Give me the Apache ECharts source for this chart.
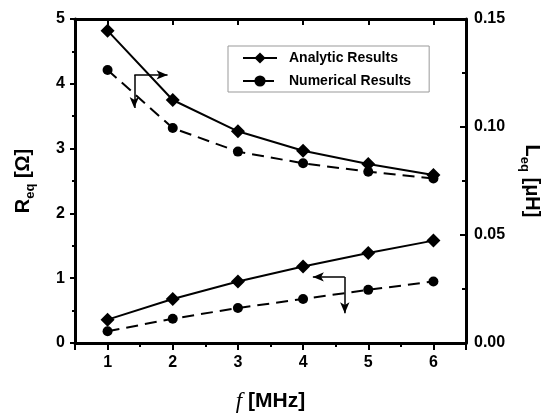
<!DOCTYPE html>
<html>
<head>
<meta charset="utf-8">
<script src="https://cdn.jsdelivr.net/npm/echarts@6/dist/echarts.min.js"></script>
<style>
  body { margin: 0; background: #fff; }
  #main { width: 544px; height: 416px; }
</style>
</head>
<body>
<div id="main"></div>
<script>
// frequency in MHz
var freq = [1, 2, 3, 4, 5, 6];
// R_eq [Ohm], left axis
var rAnalytic = [0.36, 0.68, 0.95, 1.18, 1.39, 1.58];
var rNumerical = [0.18, 0.375, 0.54, 0.68, 0.82, 0.95];
// L_eq [uH], right axis
var lAnalytic = [0.1446, 0.1125, 0.098, 0.089, 0.0829, 0.0778];
var lNumerical = [0.1264, 0.0995, 0.0886, 0.0832, 0.0793, 0.0762];

var font = 'Liberation Sans, Arial, sans-serif';

function pairs(xs, ys) {
  var out = [];
  for (var i = 0; i < xs.length; i++) out.push([xs[i], ys[i]]);
  return out;
}

// the little bent arrows telling which axis a curve belongs to
function bentArrow(corner, xEnd, yEnd) {
  return [
    [{ coord: corner, symbol: 'none' }, { coord: [xEnd, corner[1]], symbol: 'arrow' }],
    [{ coord: corner, symbol: 'none' }, { coord: [corner[0], yEnd], symbol: 'arrow' }]
  ];
}
function arrowMark(lines) {
  return {
    silent: true,
    animation: false,
    symbolSize: [7, 11],
    label: { show: false },
    lineStyle: { color: '#000', width: 1.5, type: 'solid' },
    emphasis: { disabled: true },
    data: lines
  };
}

var black = '#000';
var axisLine = { show: true, onZero: false, lineStyle: { color: black, width: 3 } };

var myChart = echarts.init(document.getElementById('main'));
var option = {
  animation: false,
  backgroundColor: '#fff',
  grid: { left: 75, right: 78, top: 19, bottom: 73, containLabel: false, outerBoundsMode: 'none' },
  legend: {
    orient: 'vertical',
    left: 228,
    top: 46,
    padding: [5, 18, 4, 14],
    itemGap: 9,
    itemWidth: 34,
    itemHeight: 14,
    backgroundColor: '#fff',
    borderColor: '#999',
    borderWidth: 1,
    borderRadius: 0,
    textStyle: { fontFamily: font, fontWeight: 'bold', fontSize: 14, color: black, padding: [0, 0, 0, 7] },
    data: ['Analytic Results', 'Numerical Results']
  },
  xAxis: [
    {
      // bottom, labelled, major ticks
      type: 'value', position: 'bottom', min: 0.5, max: 6.5, splitNumber: 6,
      axisLine: axisLine,
      axisTick: { show: true, length: 7, lineStyle: { color: black, width: 2 } },
      splitLine: { show: false },
      axisLabel: {
        margin: 12, color: black, fontFamily: font, fontWeight: 'bold', fontSize: 16,
        formatter: function (v) { return Math.abs(v - Math.round(v)) < 1e-6 ? String(Math.round(v)) : ''; }
      },
      name: '{i|f}{b|[MHz]}',
      nameLocation: 'middle',
      nameGap: 47,
      nameTextStyle: {
        rich: {
          i: { fontFamily: 'Liberation Serif, Times New Roman, serif', fontStyle: 'italic', fontSize: 23, color: black, padding: [0, 6, 0, 0] },
          b: { fontFamily: font, fontWeight: 'bold', fontSize: 21, color: black }
        }
      }
    },
    {
      // bottom, half steps
      type: 'value', position: 'bottom', min: 0.5, max: 6.5, interval: 0.5,
      axisLine: { show: false },
      axisTick: { show: true, length: 4, lineStyle: { color: black, width: 2 } },
      splitLine: { show: false },
      axisLabel: { show: false }
    },
    {
      // top frame
      type: 'value', position: 'top', min: 0.5, max: 6.5, splitNumber: 6,
      axisLine: axisLine,
      axisTick: { show: true, inside: true, length: 6, lineStyle: { color: black, width: 2 } },
      splitLine: { show: false },
      axisLabel: { show: false }
    },
    {
      type: 'value', position: 'top', min: 0.5, max: 6.5, interval: 0.5,
      axisLine: { show: false },
      axisTick: { show: true, inside: true, length: 4, lineStyle: { color: black, width: 2 } },
      splitLine: { show: false },
      axisLabel: { show: false }
    }
  ],
  yAxis: [
    {
      type: 'value', position: 'left', min: 0, max: 5, interval: 1,
      axisLine: axisLine,
      axisTick: { show: true, length: 5, lineStyle: { color: black, width: 2 } },
      minorTick: { show: true, splitNumber: 2, length: 3, lineStyle: { color: black, width: 2 } },
      splitLine: { show: false },
      axisLabel: { margin: 10, color: black, fontFamily: font, fontWeight: 'bold', fontSize: 16 },
      name: '{b|R}{s|eq}{b| [Ω]}',
      nameLocation: 'middle',
      nameRotate: 90,
      nameGap: 38,
      nameTextStyle: {
        rich: {
          b: { fontFamily: font, fontWeight: 'bold', fontSize: 20, lineHeight: 24, verticalAlign: 'top', color: black },
          s: { fontFamily: font, fontWeight: 'bold', fontSize: 13, lineHeight: 13, padding: [16, 0, 0, 0], verticalAlign: 'bottom', color: black }
        }
      }
    },
    {
      type: 'value', position: 'right', min: 0, max: 0.15, interval: 0.05,
      axisLine: axisLine,
      axisTick: { show: true, inside: true, length: 6, lineStyle: { color: black, width: 2 } },
      minorTick: { show: true, splitNumber: 2, length: 4, lineStyle: { color: black, width: 2 } },
      splitLine: { show: false },
      axisLabel: {
        margin: 8, color: black, fontFamily: font, fontWeight: 'bold', fontSize: 16,
        formatter: function (v) { return v.toFixed(2); }
      },
      name: '{b|L}{s|eq}{b| [μH]}',
      nameLocation: 'middle',
      nameRotate: -90,
      nameGap: 52,
      nameTextStyle: {
        rich: {
          b: { fontFamily: font, fontWeight: 'bold', fontSize: 20, lineHeight: 24, verticalAlign: 'top', color: black },
          s: { fontFamily: font, fontWeight: 'bold', fontSize: 13, lineHeight: 13, padding: [16, 0, 0, 0], verticalAlign: 'bottom', color: black }
        }
      }
    }
  ],
  series: [
    {
      name: 'Analytic Results', type: 'line', xAxisIndex: 0, yAxisIndex: 1,
      data: pairs(freq, lAnalytic),
      symbol: 'diamond', symbolSize: 14,
      itemStyle: { color: black },
      lineStyle: { color: black, width: 2, type: 'solid' },
      markLine: arrowMark(bentArrow([1.41, 0.1241], 1.92, 0.1088))
    },
    {
      name: 'Numerical Results', type: 'line', xAxisIndex: 0, yAxisIndex: 1,
      data: pairs(freq, lNumerical),
      symbol: 'circle', symbolSize: 10,
      itemStyle: { color: black },
      lineStyle: { color: black, width: 2, type: [12, 7] }
    },
    {
      name: 'Analytic Results', type: 'line', xAxisIndex: 0, yAxisIndex: 0,
      data: pairs(freq, rAnalytic),
      symbol: 'diamond', symbolSize: 14,
      itemStyle: { color: black },
      lineStyle: { color: black, width: 2, type: 'solid' },
      markLine: arrowMark(bentArrow([4.64, 1.02], 4.15, 0.46))
    },
    {
      name: 'Numerical Results', type: 'line', xAxisIndex: 0, yAxisIndex: 0,
      data: pairs(freq, rNumerical),
      symbol: 'circle', symbolSize: 10,
      itemStyle: { color: black },
      lineStyle: { color: black, width: 2, type: [12, 7] }
    }
  ]
};
myChart.setOption(option);
</script>
</body>
</html>
